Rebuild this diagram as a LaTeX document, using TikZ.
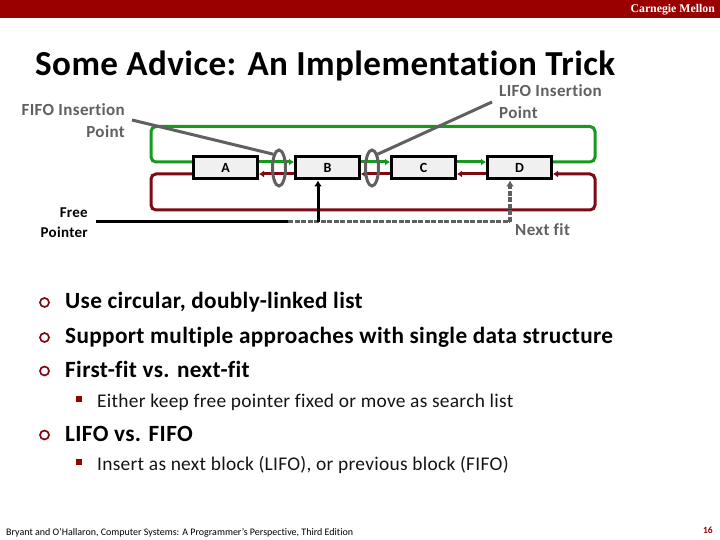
\documentclass[tikz,border=0pt]{standalone}
\usepackage{fontspec}
\setmainfont[Ligatures=NoCommon]{Carlito}
\newfontfamily\cmufont{Liberation Serif}
\usetikzlibrary{arrows.meta,calc,shapes.geometric}
\definecolor{cmured}{RGB}{153,0,0}
\definecolor{ggreen}{RGB}{20,155,30}
\definecolor{dred}{RGB}{125,10,20}
\definecolor{lgray}{RGB}{96,96,96}
\definecolor{boxfill}{RGB}{240,240,240}
\tikzset{
  blockbox/.style={draw=black,line width=3pt,fill=boxfill,minimum width=64pt,minimum height=22pt,inner sep=0pt,font=\fontsize{14}{16}\selectfont\bfseries},
  glab/.style={text=lgray,font=\fontsize{17}{20}\selectfont\bfseries\addfontfeatures{LetterSpace=2.2},inner sep=0pt},
  klab/.style={text=black,font=\fontsize{15}{18}\selectfont\bfseries\addfontfeatures{LetterSpace=2},inner sep=0pt},
  lvl1/.style={anchor=base west,inner sep=0pt,font=\fontsize{23.25}{26}\selectfont\bfseries\addfontfeatures{LetterSpace=1.5}},
  lvl2/.style={anchor=base west,inner sep=0pt,font=\fontsize{19.4}{22}\selectfont\addfontfeatures{LetterSpace=1.5},text=black!92},
  bul1/.style={draw=dred,line width=1.7pt,circle,minimum size=9pt,inner sep=0pt},
  bul2/.style={fill=cmured,minimum size=6pt,inner sep=0pt},
  gline/.style={draw=ggreen,line width=3pt,rounded corners=5pt},
  rline/.style={draw=dred,line width=3pt,rounded corners=5pt},
  tiparrow/.style={-{Latex[length=5pt,width=7pt]}},
  ptr/.style={draw=lgray,line width=3pt},
  ring/.style={draw=lgray,line width=3pt,ellipse,minimum width=13pt,minimum height=36pt,inner sep=0pt},
}
\begin{document}
\begin{tikzpicture}[x=1pt,y=-1pt]
\useasboundingbox (0,0) rectangle (720,540);
\fill[white] (0,0) rectangle (720,540);
\fill[cmured] (0,0) rectangle (720,18.5);
\node[anchor=base east,inner sep=0pt,text=white,font=\cmufont\fontsize{11.8}{14}\selectfont\bfseries] (brand) at (715,12.5) {Carnegie Mellon};
\node[anchor=base west,inner sep=0pt,font=\fontsize{35.1}{40}\selectfont\bfseries\addfontfeatures{LetterSpace=1.2}] (title) at (35,76) {Some Advice: An Implementation Trick};

% anchors on the block edges
\coordinate (Agl) at (192,162);
\coordinate (Arl) at (192,174);
\coordinate (Agr) at (259,162);
\coordinate (Arr) at (259,174);
\coordinate (Bgl) at (294,162);
\coordinate (Brl) at (294,174);
\coordinate (Bgr) at (361,162);
\coordinate (Brr) at (361,174);
\coordinate (Cgl) at (390,162);
\coordinate (Crl) at (390,174);
\coordinate (Cgr) at (457,162);
\coordinate (Crr) at (457,174);
\coordinate (Dgl) at (486,162);
\coordinate (Drl) at (486,174);
\coordinate (Dgr) at (553,162);
\coordinate (Drr) at (553,174);

% green links
\draw[gline,tiparrow] (Agr) -- (Bgl);
\draw[gline,tiparrow] (Bgr) -- (Cgl);
\draw[gline,tiparrow] (Cgr) -- (Dgl);
\draw[gline] (Dgr) -- (595,162) -- (595,126.5) -- (151,126.5) -- (151,162) -- (Agl);
% red links
\draw[rline,tiparrow] (Brl) -- (Arr);
\draw[rline,tiparrow] (Crl) -- (Brr);
\draw[rline,tiparrow] (Drl) -- (Crr);
\draw[rline,tiparrow] (Arl) -- (151,174) -- (151,210) -- (595,210) -- (595,174) -- (Drr);

% blocks
\node[blockbox] (A) at (225.5,168) {A};
\node[blockbox] (B) at (327.5,168) {B};
\node[blockbox] (C) at (423.5,168) {C};
\node[blockbox] (D) at (519.5,168) {D};

% free pointer
\coordinate (fpstart) at (96,222);
\coordinate (fpmid) at (288,222);
\coordinate (fpfork) at (318,222);
\coordinate (fpend) at (510,222);
\draw[black,line width=3pt] (fpstart) -- (fpmid);
\draw[lgray,line width=3pt,dash pattern=on 5pt off 1.5pt] (fpmid) -- (fpend);
\draw[lgray,line width=3.5pt,dash pattern=on 5pt off 1.5pt,-{Latex[length=6pt,width=8pt]}] (fpend) -- (D.south -| fpend);
\draw[black,line width=3pt,-{Latex[length=6pt,width=8pt]}] (fpfork) -- (B.south -| fpfork);

% insertion rings
\node[ring] (r1) at (279,168) {};
\node[ring] (r2) at (372,168) {};
\coordinate (fifostart) at (132,120);
\coordinate (lifostart) at (492,102);
\draw[ptr] (fifostart) -- (r1.north west);
\draw[ptr] (lifostart) -- (r2.north east);

% labels
\node[glab,anchor=base east] (fifoa) at (125,116) {FIFO Insertion};
\node[glab,anchor=base east] (fifob) at (125,138) {Point};
\node[glab,anchor=base west] (lifoa) at (499,97) {LIFO Insertion};
\node[glab,anchor=base west] (lifob) at (499,118.5) {Point};
\node[klab,anchor=base east] (fpa) at (88,218) {Free};
\node[klab,anchor=base east] (fpb) at (88,237) {Pointer};
\node[glab,anchor=base west] (nf) at (515,235.5) {Next fit};

% bullets
\node[bul1] (b1) at (44.5,302.5) {};
\node[bul1] (b2) at (44.5,337.5) {};
\node[bul1] (b3) at (44.5,371) {};
\node[bul1] (b4) at (44.5,435) {};
\node[bul2] (s1) at (79,398.5) {};
\node[bul2] (s2) at (79,461.5) {};
\node[lvl1] (t1) at (65,308) {Use circular, doubly-linked list};
\node[lvl1] (t2) at (65,343) {Support multiple approaches with single data structure};
\node[lvl1] (t3) at (65,377) {First-fit vs. next-fit};
\node[lvl2] (t4) at (97,407) {Either keep free pointer fixed or move as search list};
\node[lvl1] (t5) at (65,441) {LIFO vs. FIFO};
\node[lvl2] (t6) at (97,470) {Insert as next block (LIFO), or previous block (FIFO)};

% footer
\node[anchor=base west,inner sep=0pt,font=\fontsize{10}{12}\selectfont] (foot) at (6,535) {Bryant and O’Hallaron, Computer Systems: A Programmer’s Perspective, Third Edition};
\node[anchor=base east,inner sep=0pt,text=cmured,font=\fontsize{9.5}{11}\selectfont\bfseries] (pg) at (713,533) {16};
\end{tikzpicture}
\end{document}
